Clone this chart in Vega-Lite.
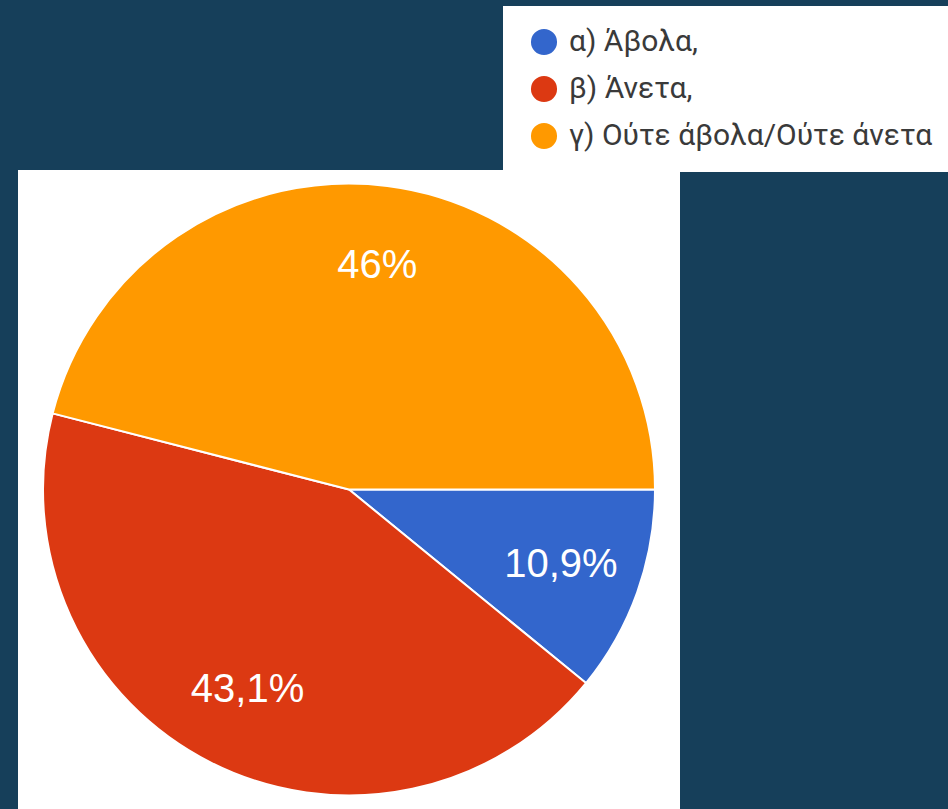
{
  "$schema": "https://vega.github.io/schema/vega-lite/v6.json",
  "width": 662,
  "height": 639,
  "autosize": {"type": "none"},
  "padding": {"left": 18, "top": 170, "right": 268, "bottom": 0},
  "background": "#163f5a",
  "view": {"fill": "white", "stroke": null},
  "config": {
    "view": {"fill": "white", "stroke": null},
    "font": "Liberation Sans"
  },
  "data": {
    "values": [
      {"category": "α) Άβολα,", "percent": 10.9, "label": "10,9%", "order": 1},
      {"category": "β) Άνετα,", "percent": 43.1, "label": "43,1%", "order": 2},
      {"category": "γ) Ούτε άβολα/Ούτε άνετα", "percent": 46.0, "label": "46%", "order": 3}
    ]
  },
  "encoding": {
    "theta": {"field": "percent", "type": "quantitative", "stack": true, "scale": {"range": [1.5708, 7.854]}},
    "order": {"field": "order", "type": "quantitative"}
  },
  "layer": [
    {
      "mark": {"type": "arc", "outerRadius": 306, "stroke": "white", "strokeWidth": 2},
      "encoding": {
        "color": {
          "field": "category",
          "type": "nominal",
          "sort": ["α) Άβολα,", "β) Άνετα,", "γ) Ούτε άβολα/Ούτε άνετα"],
          "scale": {"domain": ["α) Άβολα,", "β) Άνετα,", "γ) Ούτε άβολα/Ούτε άνετα"], "range": ["#3366cc", "#dc3912", "#ff9900"]},
          "legend": {
            "title": null,
            "orient": "none",
            "legendX": 485,
            "legendY": -164,
            "fillColor": "white",
            "padding": 21,
            "symbolType": "circle",
            "symbolSize": 680,
            "symbolStrokeWidth": 0,
            "symbolOffset": 5,
            "labelFont": "Roboto",
            "labelFontSize": 30,
            "labelColor": "#3a3a3a",
            "labelOffset": 10,
            "labelLimit": 600,
            "rowPadding": 17
          }
        }
      }
    },
    {
      "mark": {"type": "text", "radius": 225, "fontSize": 40, "fill": "white", "font": "Liberation Sans"},
      "encoding": {"text": {"field": "label", "type": "nominal"}}
    }
  ]
}
